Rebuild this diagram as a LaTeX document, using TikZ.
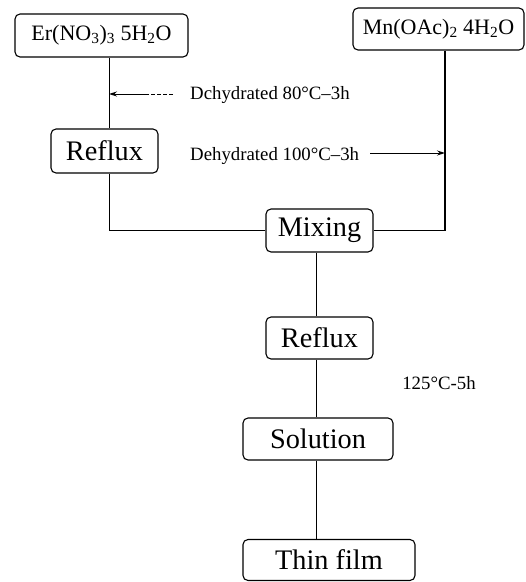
\documentclass[tikz,border=0pt]{standalone}
\usepackage{fontspec}
\setmainfont{Liberation Serif}
\usetikzlibrary{arrows.meta}
\tikzset{
  box/.style={draw, rounded corners=5pt, line width=1.1pt, inner sep=0pt, anchor=center},
  big/.style={font=\fontsize{28.3}{31}\selectfont},
  chem/.style={font=\fontsize{22}{25}\selectfont},
  note/.style={font=\fontsize{18.8}{21}\selectfont, inner sep=0pt},
  link/.style={line width=0.9pt},
  tip/.style={-{Stealth[length=8pt,width=5pt]}}
}
\begin{document}
\begin{tikzpicture}[x=1pt,y=-1pt]
\useasboundingbox (0,0) rectangle (526,582);
\coordinate (xl) at (109,0);
\coordinate (xr) at (445,0);
\coordinate (xm) at (316,0);

\node[box,chem,minimum width=173pt,minimum height=43pt] (er) at (101.5,35.5) {Er(NO\textsubscript{3})\textsubscript{3} 5H\textsubscript{2}O};
\node[box,chem,minimum width=171pt,minimum height=42pt] (mn) at (438.5,29) {Mn(OAc)\textsubscript{2} 4H\textsubscript{2}O};
\node[box,big,minimum width=107pt,minimum height=44pt] (r1) at (104.5,151) {Reflux};
\node[box,big,minimum width=107pt,minimum height=43pt] (mix) at (319.5,230.5) {Mixing};
\node[box,big,minimum width=107pt,minimum height=42pt] (r2) at (319.5,338) {Reflux};
\node[box,big,minimum width=150pt,minimum height=42pt] (sol) at (318,439) {Solution};
\node[box,big,minimum width=172pt,minimum height=41pt] (thin) at (329,560) {Thin film};

\node[note,anchor=west] (n1) at (190,95) {Dchydrated 80°C–3h};
\node[note,anchor=west] (n2) at (190,156) {Dehydrated 100°C–3h};
\node[note] (n3) at (439,383) {125°C-5h};

\coordinate (a1) at (173,94);
\coordinate (a2) at (370,153);

\draw[link] (er.south -| xl) -- (r1.north -| xl);
\draw[link] (r1.south -| xl) |- (mix.west);
\draw[line width=1.8pt] (mn.south -| xr) |- (mix.east);
\draw[link] (mix.south -| xm) -- (r2.north -| xm);
\draw[link] (r2.south -| xm) -- (sol.north -| xm);
\draw[link] (sol.south -| xm) -- (thin.north -| xm);

\draw[link,tip,dash pattern=on 4pt off 2pt on 4pt off 2pt on 4pt off 2pt on 4pt off 2pt on 60pt] (a1) -- (a1 -| xl);
\draw[link,tip] (a2) -- (a2 -| xr);
\end{tikzpicture}
\end{document}
